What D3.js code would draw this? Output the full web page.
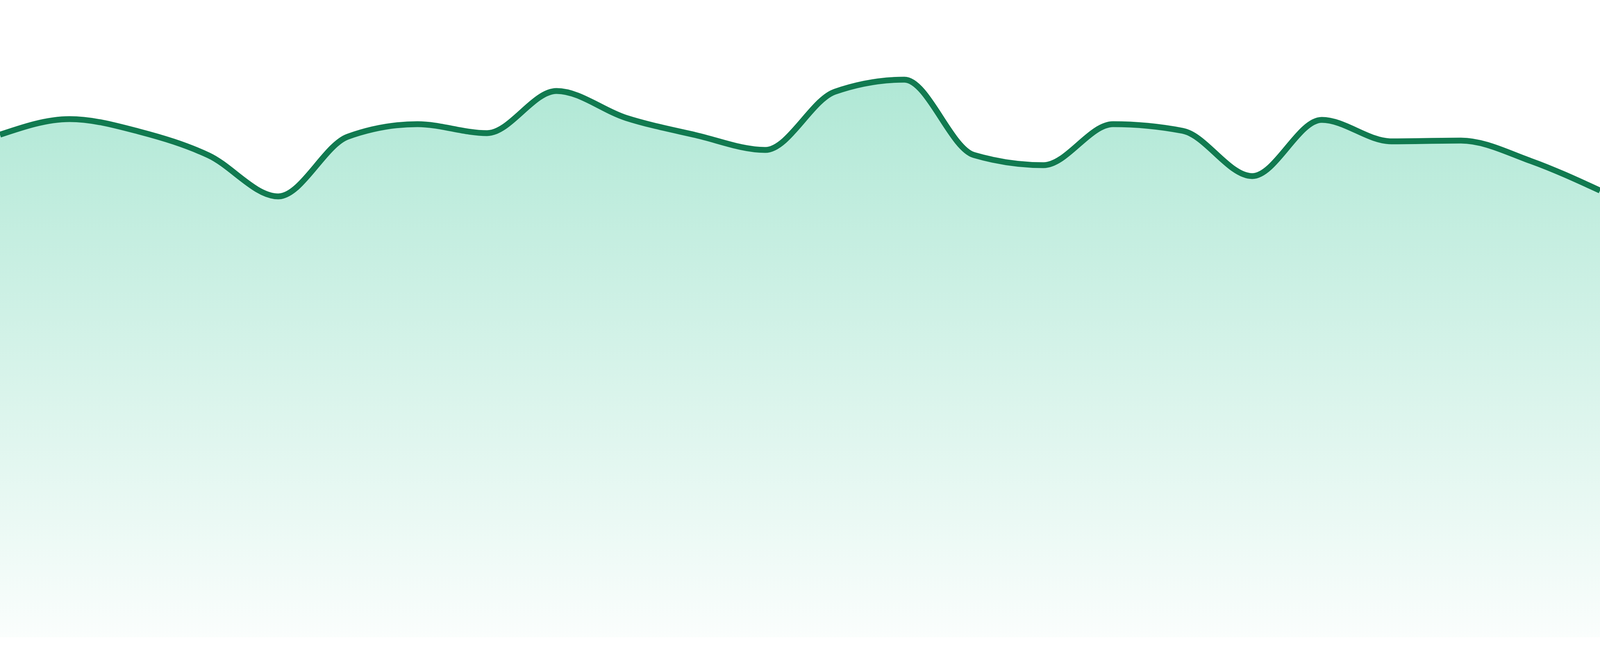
<!DOCTYPE html>
<html>
<head>
<meta charset="utf-8">
<script src="https://cdn.jsdelivr.net/npm/d3@7"></script>
<style>
  html, body { margin: 0; padding: 0; background: #ffffff; overflow: hidden; }
  svg { display: block; }
</style>
</head>
<body>
<div id="chart"></div>
<script>
// --- Data ---
const hours = ["00", "01", "02", "03", "04", "05", "06", "07", "08", "09", "10", "11",
               "12", "13", "14", "15", "16", "17", "18", "19", "20", "21", "22", "23"];
const values = [128.7, 132.7, 129.5, 123.4, 112.9, 128.2, 131.4, 129.1, 139.9, 133.0, 128.6, 124.8,
                139.7, 142.8, 123.5, 120.9, 131.4, 129.7, 118.1, 132.5, 127.0, 127.2, 122.0, 114.4];

// --- Dimensions: fill the window (designed at 4800 x 1680) ---
const W = window.innerWidth || 4800;
const H = window.innerHeight || 1680;
const k = H / 1680;                 // vertical scale factor
const bottom = H - 48 * k;          // baseline of the area

const svg = d3.select("#chart")
  .append("svg")
  .attr("width", W)
  .attr("height", H);

// --- Gradient for the area ---
const defs = svg.append("defs");
const grad = defs.append("linearGradient")
  .attr("id", "areaFill")
  .attr("x1", "0%").attr("y1", "0%")
  .attr("x2", "0%").attr("y2", "100%");
grad.append("stop").attr("offset", "0%")
  .attr("stop-color", "#10b981").attr("stop-opacity", 0.33);
grad.append("stop").attr("offset", "100%")
  .attr("stop-color", "#10b981").attr("stop-opacity", 0.02);

// --- Scales ---
const x = d3.scalePoint()
  .domain(hours)
  .range([0, W]);

const y = d3.scaleLinear()
  .domain([0, 160])
  .range([bottom, bottom - 1600 * k]);

const data = hours.map((h, i) => ({ h, v: values[i] }));

// --- Area + line ---
const area = d3.area()
  .x(d => x(d.h))
  .y0(y(0))
  .y1(d => y(d.v))
  .curve(d3.curveMonotoneX);

const line = d3.line()
  .x(d => x(d.h))
  .y(d => y(d.v))
  .curve(d3.curveMonotoneX);

svg.append("path")
  .datum(data)
  .attr("d", area)
  .attr("fill", "url(#areaFill)");

svg.append("path")
  .datum(data)
  .attr("d", line)
  .attr("fill", "none")
  .attr("stroke", "#117a50")
  .attr("stroke-width", 15 * k)
  .attr("stroke-linejoin", "round");
</script>
</body>
</html>
